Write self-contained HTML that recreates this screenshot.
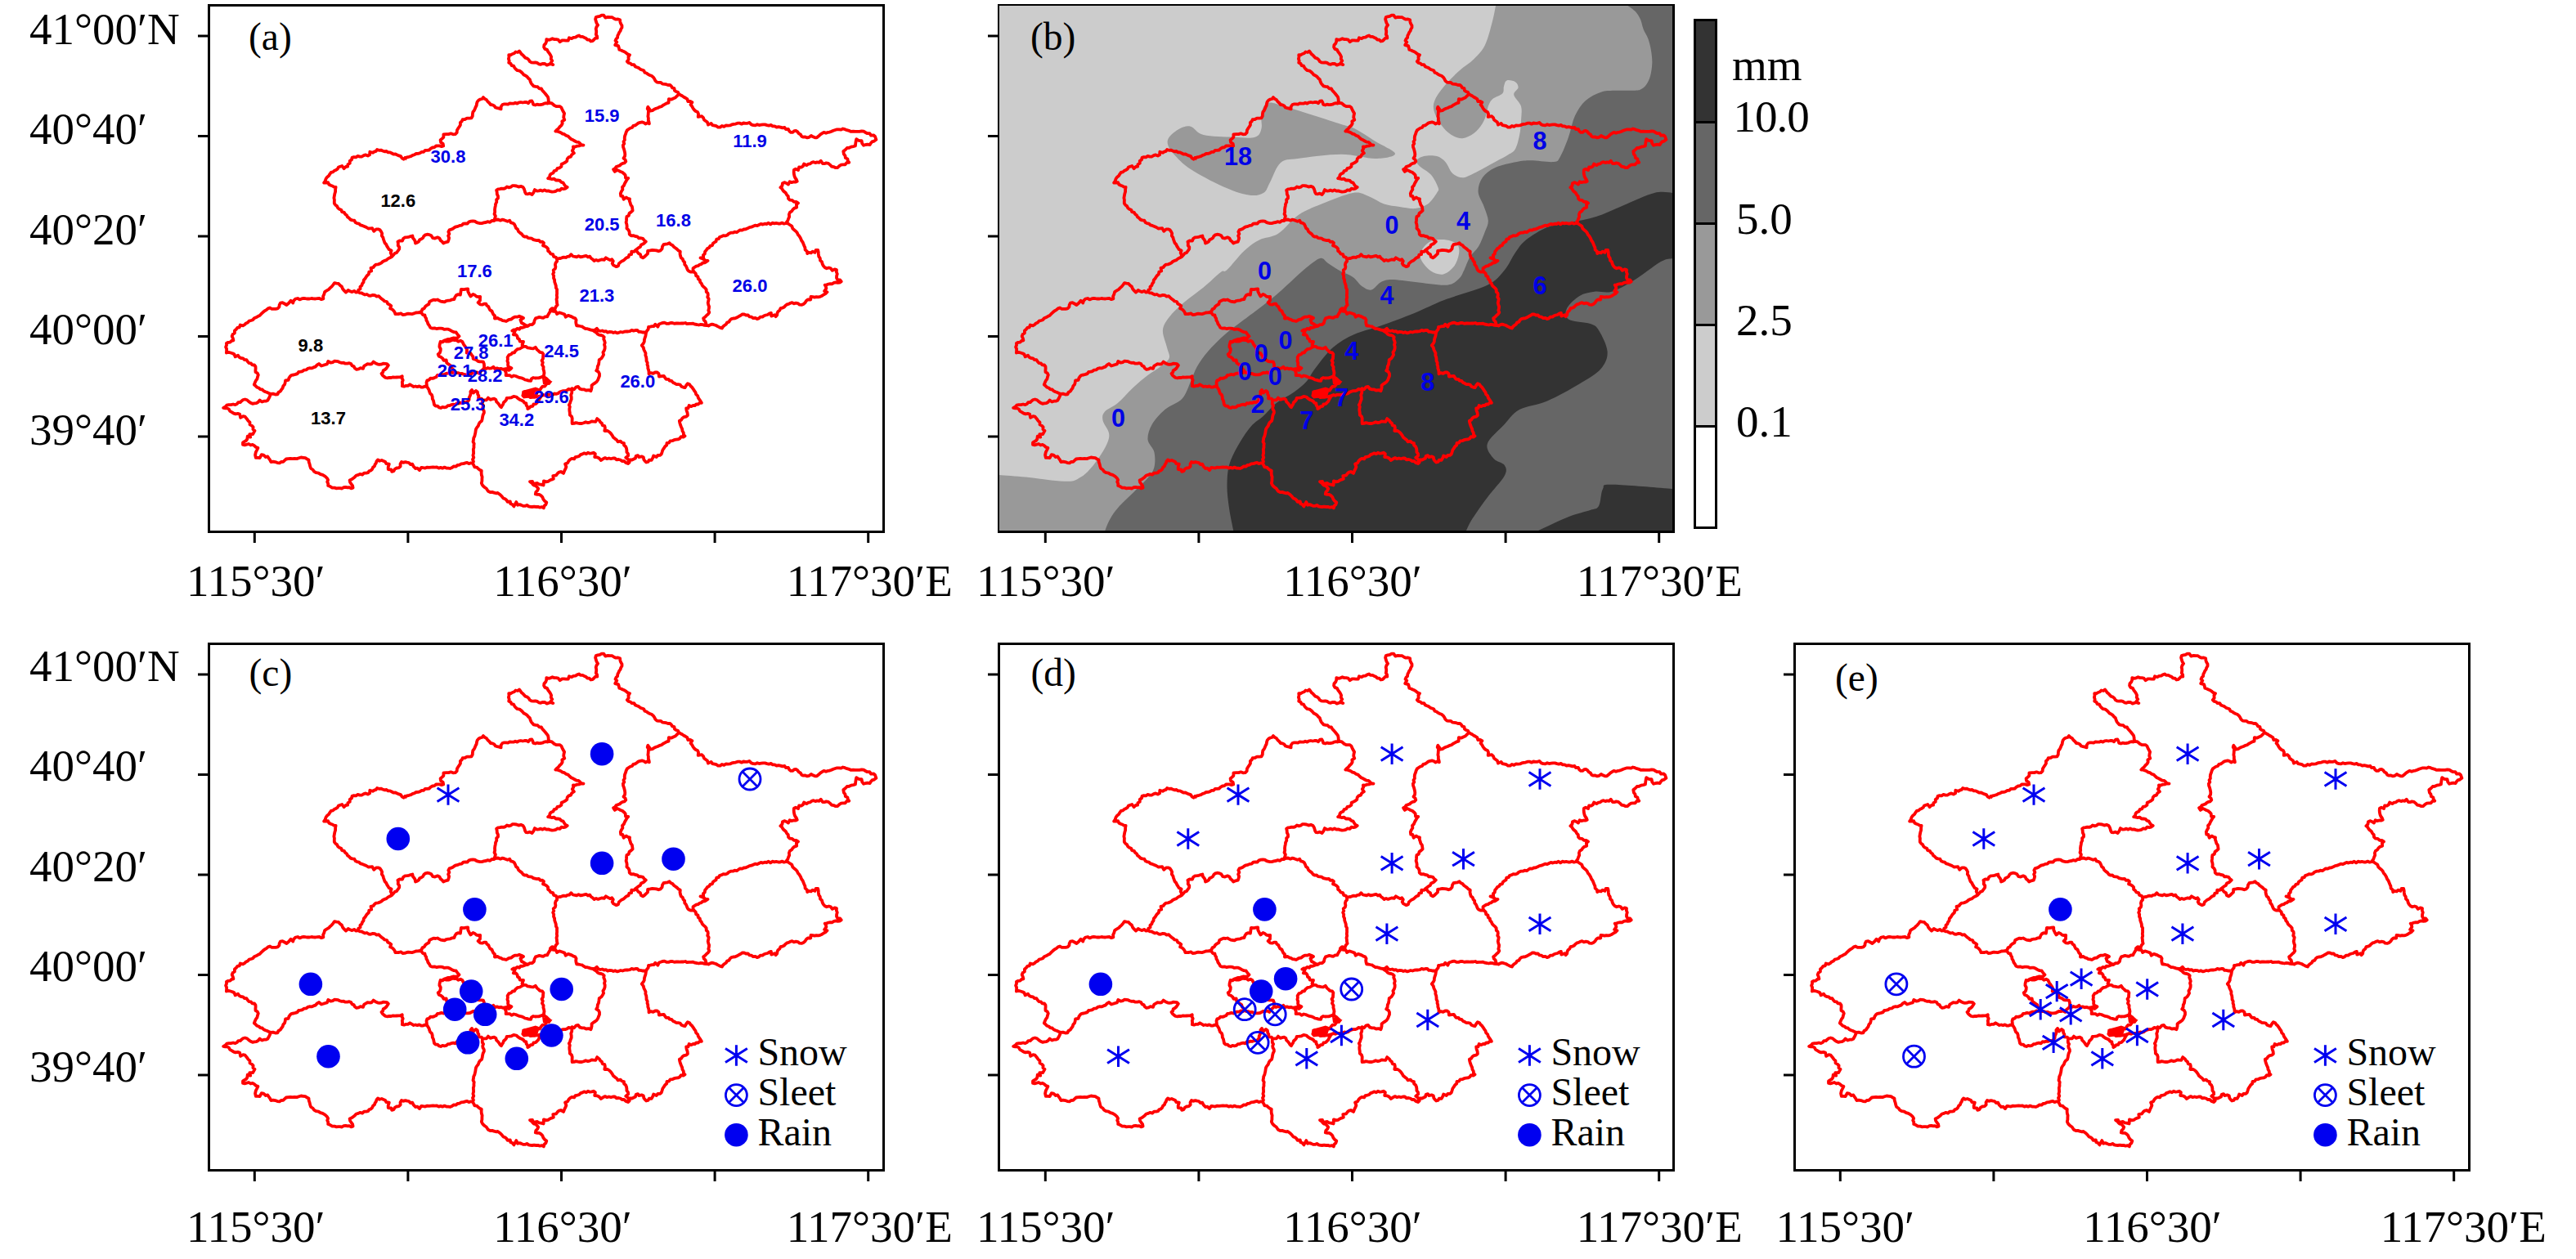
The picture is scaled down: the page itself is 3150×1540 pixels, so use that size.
<!DOCTYPE html><html><head><meta charset="utf-8"><style>html,body{margin:0;padding:0;background:#fff;}svg{display:block;}</style></head><body>
<svg width="3150" height="1540" viewBox="0 0 3150 1540">
<rect width="3150" height="1540" fill="#fff"/>
<defs>
<g id="map"><path d="M672,126 L669.8,126.5 L667.6,126.2 L665.4,126.6 L663.3,127.7 L661.1,128 L658.9,128.1 L656.6,127.7 L654.5,128.5 L652.2,128 L651.5,125.7 L650.4,123.5 L648.1,123.7 L646.2,126.2 L643.7,125 L641.4,125 L639.2,125.5 L636.9,125 L634.6,125.4 L632.5,126.6 L630.1,125.7 L627.9,126.7 L625.6,126.7 L623.3,126.4 L621.2,127.6 L618.9,127.4 L616.6,127.3 L614.4,128 L612.6,130.5 L612.6,133.4 L610.4,132.7 L608.1,132.2 L605.9,131.5 L604.3,129.4 L602.3,128.3 L599.9,128 L598.4,126 L596.4,124.3 L595,122.2 L592.7,120.8 L590.9,119 L589.6,121 L587.2,121.5 L585.2,122.6 L583.7,124.4 L583,126.6 L582.7,129 L581.6,131 L580.8,133.1 L579.8,135.2 L578.3,137 L577.9,139.5 L577.8,142 L576.5,144.3 L573.8,144.6 L571,144.6 L568.5,146 L565.7,146.1 L564.8,148.3 L562.8,150 L563,152.8 L561.8,154.9 L560.3,156.9 L558.9,159.2 L558.7,162.1 L556.7,164.1 L554,164.3 L551.3,163.3 L548.6,164.1 L545.9,164.1 L542.4,164.3 L542.4,167.8 L540.6,169.6 L538.6,171.3 L539.1,174.1 L541.7,175.8 L542.2,178.5 L540,179.2 L537.7,178.4 L535.5,178.3 L533.2,178.5 L531.3,180.1 L528.8,180.5 L526.7,181.6 L524.9,183.5 L522.4,183.9 L519.9,183.9 L518.1,185.8 L515.7,185.9 L513.6,187.2 L511.4,187.9 L508.9,188 L506.9,189.2 L504.6,189.9 L502.6,191.1 L500.2,191.8 L497.9,192.4 L495.6,193.1 L493.6,194.7 L491.4,193.3 L490,191.1 L487.8,190.4 L485.7,189.5 L483.6,188.5 L481.2,188.7 L479.2,187.5 L477,186.4 L474.6,186.4 L472.6,185 L470.1,185.3 L467.9,184.5 L465.8,183.6 L463.3,183.8 L461.1,183 L459.8,184.9 L457.6,185.6 L455.7,186.8 L452.3,185.8 L452.1,189.3 L449.8,190.5 L447.2,189.4 L444.8,190.1 L442.6,191.5 L440.1,191.6 L437.5,190.9 L435.3,192.3 L432.8,192.1 L430.5,192.9 L430,195.4 L427.7,196.9 L427.8,199.7 L425.4,201.2 L425.1,203.7 L422.8,204 L420.6,206.2 L418.3,203 L416.1,203.7 L413.9,204.5 L412.8,206.7 L410.9,207.9 L408.8,208.8 L407.1,210.3 L404.8,210.9 L403.4,212.8 L402.1,215 L399.9,216.7 L398.5,218.8 L397.6,221.4 L396.2,223.6 L398.6,223.5 L401.1,223.2 L402.4,225.8 L404.4,226.8 L406.5,227.5 L408.4,228.7 L410.6,229 L410.1,231.7 L410.1,234.5 L409.3,237.1 L408.8,239.8 L408.4,242.1 L408.9,244.3 L408.8,246.6 L408.8,248.8 L410.2,250.7 L412.1,252.1 L413.2,254.3 L414.9,255.8 L417.3,256.7 L418.1,259.2 L420.8,259.8 L422,261.9 L423.9,263.2 L425,265.4 L426.9,266.8 L428.6,268.6 L430.7,269.4 L433.3,269.7 L434.6,272.1 L436.6,273.2 L439.1,273.6 L440.8,275.3 L443.1,275.9 L445.6,276.9 L448,278 L450.3,279.5 L452.8,279.4 L455.2,279.2 L457.2,282.8 L460,280.3 L462.4,280.3 L464.7,281.3 L466.1,283.3 L467.2,285.5 L466.8,288.3 L468.3,290.3 L468.9,292.6 L469.7,294.8 L470.5,297.1 L472.2,298.9 L473.2,301.1 L474.5,303.1 L475.6,305.1 L478.6,306.4 L477.7,309.4 L478.7,311.5 L479,314 M479,314 L476.8,315.3 L474.5,316.4 L472.5,318.1 L470,319 L468,320 L466.3,321.6 L464.4,322.7 L462.2,323.3 L459.8,323.6 L458,325 L456.5,327 L453.5,327.9 L454.2,331.5 L451.3,332.5 L450.9,335.3 L449,337 L447.6,338.9 L446.4,340.9 L444.8,342.6 L444.5,345.2 L443,347 L442.4,349.2 L440.4,350.7 L440.6,353.3 L438.2,354.6 L438,357 M438,357 L435.5,357.6 L433.1,355.9 L430.5,357.1 L428.1,356.3 L425.8,355 L423,357.6 L420.8,355.4 L419,353.3 L418,350.6 L415.8,349 L414,346.9 L411.5,346.7 L409,346.2 L407.2,348.6 L405.8,350.3 L404.1,351.8 L402.6,353.4 L400.9,354.7 L398.9,355.8 L397.1,357.1 L396.3,359.9 L395.1,362.6 L395.4,365.5 L393,366.2 L390.6,365 L388.1,365.1 L385.7,365.5 L383.3,365.3 L380.9,365 L378.5,365.5 L376,365.5 L373.6,365.2 L371.2,364.8 L368.8,365.4 L366.4,366.4 L364,365 L361.5,365.5 L359.2,367.6 L358.2,370.6 L355.6,367.7 L353.1,370.8 L350.5,373 L348,371.5 L345.5,370.2 L342.9,370.6 L341.7,372.8 L341.4,375.5 L339.5,377.4 L337.2,377.8 L334.8,377.8 L332.4,377.9 L330.1,376.5 L327.7,377.4 L325.7,379.2 L323.3,380.5 L321.2,382.3 L319.2,384.2 L317.5,386.1 L315.2,387.1 L313.1,388.3 L310.8,389.2 L309.2,391.2 L307,392 L304.6,392.6 L303,394.5 L300.8,395.4 L299.1,397.2 L297.1,398.3 L293.8,397.5 L292.8,400.3 L290.3,400.8 L288.8,402.8 L286.9,404.5 L286.9,407.4 L284.6,408.9 L283.7,411.2 L284.8,413.7 L285.4,416.3 L283.2,416.9 L281.4,418.6 L279,418.9 L276.9,419.7 L277.1,422.1 L276.1,424.4 L277.1,426.8 L277.1,429.2 L276.9,431.5 L279.5,430.9 L282,431.5 L284.3,432.2 L286.4,433.3 L287.7,436.4 L291,434.7 L292.6,437 L294.7,438 L297.2,438.3 L298.8,440.1 L301.5,440.2 L302.8,442.3 L304.4,444.1 L306.9,444.4 L308.4,446.4 L311,446.5 L312.5,448.5 L312.6,450.7 L312.4,453 L312.5,455.2 L314.7,456.4 L315.8,458.6 L315,461 L314.4,463.6 L312.8,465.7 L311.7,468.1 L310.8,470.5 L312.6,472 L314.2,473.8 L316.5,474.5 L318.2,476.1 L320.7,476.5 L322.4,478.2 L324.6,479.2 L326.8,480 L328.9,481.1 L331,482 M331,482 L330,484.7 L328.7,487.3 L327.3,489.8 L325.1,490.7 L322.7,490.7 L320.4,491.5 L317.6,489.6 L315.7,491.8 L313.5,493.2 L311.1,493.3 L308.8,493.8 L306.4,492.7 L304.2,491.1 L302.2,489.3 L299.6,488.5 L297.3,489 L295.5,490.4 L293.8,492.1 L291.3,492.1 L289.8,494.1 L287.7,495.1 L285.1,494.5 L282.4,495.1 L279.8,495.1 L277.2,495.7 L275.4,497.7 L273.2,499 L275.4,499.4 L277.7,499.4 L279.8,500.4 L281.2,502.9 L283.8,504.3 L285.8,505.6 L288.1,506.4 L290.8,505.9 L293.1,506.5 L294.1,510.9 L297.3,509.1 L299.6,509.6 L301.7,512.2 L303.6,514.9 L305.5,516.5 L305.5,519.3 L307.9,520.6 L309.6,522.3 L309.4,525.3 L311.5,526.8 L310.4,528.9 L309.2,531 L305.3,531.2 L306.2,534.7 L302.7,533.7 L302.3,537.1 L300.9,539 L298.9,540.1 L297,541.3 L297,543.9 L299.3,544.3 L301.7,543.7 L304.1,543 L306.5,544.5 L308.8,543.9 L311,545.2 L313,547 L315.4,547.9 L314.2,550.5 L312.8,553.2 L312.1,556.5 L312.8,559.8 L315.2,559.8 L317.7,560 L319.8,556.2 L322.3,556.6 L324.9,559 L327.3,558.4 L328.7,560.6 L330.2,562.7 L331.3,565 L334,564.6 L336.6,565.1 L339.2,566.1 L341.8,566.4 L343.8,565 L346.3,564.8 L348.1,563.1 L349.9,561.5 L352.4,561.1 L355,560.9 L357.7,561.2 L360.3,560.9 L363,561.1 L365.5,560.3 L368.1,559.5 L370.9,559.8 L373.3,560.1 L375.3,561.4 L377.5,562.4 L377.7,565.1 L378.6,567.7 L379.2,570.4 L380.1,573 L382.5,574.5 L384.2,576.9 L386.7,578.2 L389.5,578.6 L391.9,580.2 L394.6,580.9 L397.5,582.6 L399.9,584.8 L401.1,587 L400.2,589.5 L401.3,591.7 L401.2,594.1 L403.8,595.1 L406.3,596.6 L409.2,596.7 L411.4,597.3 L413.6,597.1 L415.9,597.2 L418.1,597.5 L420.4,596.1 L422.6,595.8 L424.9,596.4 L427.1,596.1 L429.4,597.4 L431.6,596.7 L431.1,594.2 L429.6,592.1 L428.1,590 L427.6,587.5 L429.9,586.4 L431.9,584.9 L433.9,583.4 L435.7,581.5 L438.2,580.9 L440.5,579.8 L443.1,580.7 L445.2,578.7 L447.7,578.7 L450.1,578.2 L451.3,576.3 L453.6,575.4 L455.2,573.8 L456.1,571.6 L458,570.3 L458.6,568.1 L459.9,566.3 L460.5,564.2 L462,562.4 L464.1,563.8 L466.8,563 L469,563.9 L471.2,565 L472.3,567.2 L475.8,567.7 L474.7,571.3 L474.7,574.1 L478.5,574.5 L479.1,576.9 L481.5,576.1 L482.9,573.6 L485.1,572.5 L487.8,572.1 L489.7,570.3 L489.5,567.5 L491,565 L493.1,565.8 L495.6,565.1 L497.8,565.6 L500,566 L501.8,568 L504.2,567.7 L505.7,570.7 L508.2,573 L510.5,572.6 L513,575.1 L515.2,571.8 L517.6,572.2 L520,572.5 L522.4,571.6 L524.8,571.9 L527.1,571.6 L529.5,571.4 L531.9,571.6 L534.2,571.5 L536.5,572.6 L538.9,571.9 L541.1,572.7 L543.5,571.6 L545.8,572.5 L548.1,572.6 L550.4,573 L552.7,572.1 L554.7,570.5 L557.4,570.7 L559.4,569 L561.9,568.6 L564,567.4 L566.6,567.2 L568.9,566.4 L571.2,565.8 L573.4,567.2 L575.8,566.3 L578,567 M578,567 L579.3,569.1 L580.4,571.4 L583.1,571.6 L584.7,573.3 L586.6,574.7 L588.8,575.7 L588.6,578.2 L588.8,580.8 L589.6,583.3 L589.4,585.8 L589.4,588.4 L588.8,590.9 L589.7,593 L591.1,594.8 L592.8,596.2 L594.7,597.5 L595.9,599.3 L597.2,601.1 L599.4,602.1 L601.8,601.9 L604,602.6 L606.3,603.3 L608.7,603 L610.8,604.5 L612.5,605.9 L614,607.6 L615.4,609.4 L617.7,610.3 L619.4,611.7 L620.6,613.8 L623.9,613.4 L624.3,616.3 L626.5,617 L628.4,619.4 L631.3,614.1 L633.1,617.8 L635.4,617.1 L637.6,617.9 L639.7,618.9 L642,618.9 L644.3,617.9 L646.4,619.4 L648.6,619.9 L650.8,620 L653.1,619.7 L655.4,620 L657.9,619.9 L660.2,620.7 L662.7,620.2 L664.9,621.4 L665.5,618.9 L667.5,617 L668.3,614.6 L666.2,612.9 L664.4,610.8 L663.4,608.1 L661.5,606.2 L659.4,604.9 L657.1,604.9 L654.8,604.5 L655.3,601.9 L657.2,600.1 L658.2,597.7 L656.8,595.9 L655.3,594.2 L652.9,593.7 L651.3,592.1 L651.1,589 L648,589.2 L650.1,590.6 L652.3,591.1 L654.7,591.3 L657.1,591 L659.2,592.3 L661.5,592.6 L664.6,593.5 L664.9,588.4 L667.9,589.4 L670.3,588.8 L672.3,587.5 L674.5,586.6 L676.8,585.8 L676.3,582 L680.1,581.3 L681.8,579.1 L683.7,577.6 L685.9,577 L689.1,578.9 L690.3,575.7 L691.5,573.4 L692.4,571 L691.1,567.6 L694.2,566.2 L695.4,563.8 L697.1,562.1 L699.2,560.9 L702.1,561.4 L703.6,559.1 L706,558.6 L708.3,558 L710,556.1 L712.3,555.4 L714.5,554.3 L716.9,555.3 L719,553.7 L721.4,554.7 L723.6,554.4 L725.8,553.7 L727.9,555 L727.2,559.1 L730.4,559.3 L732.6,560.5 L735,563.1 L737.5,561.2 L739.9,560.1 L742.3,561.2 L744.7,560.5 L747.1,561.2 L749.5,560.5 L751.9,560.5 L753.9,562.3 L756.4,562 L758.6,562.5 L760.6,564 L763.1,563.8 L765.2,565.9 L768,567 M768,567 L769.7,565.5 L769.8,562.3 L772.9,562.5 L775,561.5 L777,560.5 L777.7,557.8 L780,557.1 L781.2,559.1 L784.6,558.4 L786.8,559.2 L787.3,562.1 L788.6,563.9 L790.2,565.5 L792.5,564.9 L793.9,562.6 L796.7,562.8 L798.1,560.4 L799.2,557.5 L802.7,559 L804.3,557 L806.9,556.9 L808.8,555.4 L809.6,553 L810.3,550.5 L811.8,548.4 L813.1,546.3 L815.2,544.5 L815.5,541.8 L818,541.6 L819.6,539.4 L822.1,539.2 L824.2,538.2 L826.6,537.7 L829,537.4 L831.1,536.5 L832.8,534.2 L835.5,534.7 L837.5,533.4 L835.9,531.6 L835.8,529.2 L834.5,527.3 L834.2,524.9 L833.1,522.5 L832.1,520 L831.3,517.4 L830.8,514.8 L833,513.7 L834.4,511.5 L836.4,510.1 L839.1,509.7 L840.9,508 L840.6,505.1 L839.6,502.4 L839.2,499.5 L841.5,499.4 L842.6,496 L845.4,497.2 L847.3,496 L849.7,496 L851.4,494.4 L853.8,494.6 L855.5,492.7 L857.9,492.8 L856.6,490.6 L855.2,488.6 L853.8,486.6 L853.1,484.1 L851.1,482.4 L850.5,479.9 L849,478 L847.7,475.8 L846.3,473.8 L844.5,472.3 L843.2,470.2 L840.9,469.1 L839.1,471.5 L837.5,474.2 L835.3,473.6 L833.2,472.7 L831.7,470.5 L829.4,470.1 L826.9,470 L825,468.8 L822.9,467.9 L821.3,466 L818.9,465.7 L817.4,463.8 L814.6,463.9 L813.2,462 L811.8,459.9 L808.9,460.1 L805.9,460.5 L805.5,456.9 L803.7,455.5 L801.1,455.5 L798.7,456.9 L796,456.1 L793.5,457.2 L793.5,454.9 L793.1,452.7 L792.3,450.5 L792.3,448.2 L791.5,446 L791.7,443.6 L790.5,441.5 L790.5,439.2 L790.2,436.9 L789.3,434.6 L789.5,432 L788.4,429.7 L787.3,427.5 L786.8,425.1 L784.8,422.5 L786.8,420 L787.8,418 L787.9,415.7 L788.5,413.5 L789.3,411.4 L789.7,409.2 L790,407 M790,407 L791,404.7 L792.7,402.7 L793,400 L795.2,399.7 L797.4,399.2 L799.6,399 L801.3,396.7 L804.4,399.7 L805.8,396.5 L807.9,395.8 L810,395 L812.5,394.6 L815,395.8 L817.5,395.9 L820,395 L822.2,394.9 L824.5,395.8 L826.8,395.5 L829,395.3 L831.2,395.6 L833.5,395.3 L835.8,395.5 L838,395 L840.3,396.2 L842.7,395.8 L845.1,395.8 L847.5,395.6 L849.8,396.7 L852.1,397 L854.5,397.5 L856.9,396.9 L859.3,397.1 L861.6,397.9 L864,398 M864,398 L866.3,398.5 L868.4,397.3 L870.6,396.7 L872.9,397.2 L875.5,398 L877.9,399.4 L880.3,400.6 L882.9,401.5 L884.1,399.5 L885.9,398 L887.9,396.7 L889,394.6 L891.4,393.7 L892.6,391.6 L894.3,390.1 L896.6,389.5 L899.1,389.3 L901.3,388.3 L903.4,387 L905.5,386 L907.5,384.5 L910,384.4 L912.2,385.5 L914.8,385.4 L916.6,387.4 L919,387.7 L921,389.1 L923.7,388.8 L925.8,390.1 L928,389.4 L929.8,387.7 L932.3,387.7 L934.2,386.2 L936.4,385.5 L938.7,385 L940.7,383.6 L942.9,382.9 L943.2,386.6 L947.2,385.2 L948.6,387.2 L950.2,385.5 L950.5,383 L951.5,380.9 L953.5,379.4 L954.4,377.2 L956.6,376.6 L958.8,375.8 L960.3,373.9 L962.2,372.4 L964.4,371.9 L966.5,370.8 L968.6,370.1 L970.8,371.3 L973.3,370.7 L975.7,371.1 L977.7,372.7 L980.1,372.9 L982.5,371.9 L984.5,370.3 L985.9,368 L987.8,366.4 L991.3,366.5 L991.5,362.9 L993.8,363.2 L996.1,363.7 L998.4,363.1 L1000.7,363.3 L1003,362.9 L1005.3,361.8 L1007.4,360.3 L1009.6,359 L1011.5,357.2 L1008.1,356 L1010.4,352.8 L1009.9,350.6 L1008.7,348.6 L1010.9,348.3 L1013.1,347.5 L1015.3,347.1 L1017.7,347.3 L1019.8,345.8 L1022,345.4 L1024.4,345.8 L1026.7,345.6 L1028.7,344.3 L1027.2,342.3 L1024.3,342.2 L1023,340.1 L1023.1,337.6 L1023.8,335.1 L1022.8,332.6 L1023,330.1 L1020.6,329.3 L1017.8,330.9 L1015.9,328.3 L1013.6,327.5 L1010.9,328.3 L1008.7,327.2 L1006.9,325.3 L1005.7,323 L1005,320.3 L1003,318.6 L1002.8,315.9 L1001.2,313.6 L1000.9,311 L1000.7,308.3 L1000.1,305.8 L997.7,305.8 L996.4,308.9 L993.6,307.6 L991.8,309.3 L989.2,308.9 L987.2,310 L986.9,307.4 L984.6,305.6 L984.4,302.9 L983.4,300.7 L982.5,298.5 L981.6,296.2 L980.1,294.3 L978.9,291.3 L977.2,288.6 L975.7,286.9 L974.8,284.7 L973.3,282.9 L971.5,281.5 L969.3,279.6 L968.3,276.6 L965.8,275 L963.6,273.5 L961,273 M961,273 L963.3,270 L964.1,267.5 L965.2,265.1 L964.9,262.3 L965.8,259.8 L968.1,258.4 L969.5,256.2 L971.5,254.6 L974.2,253.6 L973.9,249.9 L976,248.4 L973.6,247 L970.8,246.8 L968.6,244.9 L965.8,244.6 L964,242.8 L963.8,240.1 L962,238.2 L960.9,236.1 L959,234.6 L957.4,232.9 L956.3,230.8 L954.4,229.3 L956.5,227.2 L956.9,224.2 L959.1,223.1 L961.5,224 L964,225.6 L965.7,222.2 L968.1,223.1 L970.3,222.5 L972.6,222.7 L974.7,221.7 L973.8,219.5 L972.3,217.5 L971.4,215.2 L970.9,212.8 L970.7,210.3 L970.9,207.7 L973,206.7 L976.1,208 L977.1,204.4 L979.8,204.6 L981.8,203.4 L983.1,200.5 L986.3,202.1 L988.3,200.7 L990.7,200.4 L992.5,198.8 L994.8,198.2 L997,199.1 L999.2,198.4 L1001.5,198.8 L1003.8,196.7 L1005.9,200 L1008.1,200.2 L1010.3,199.4 L1013,199.9 L1015,201.6 L1016.8,203.6 L1019.4,204.1 L1021.8,205.2 L1024.3,205 L1026.2,203.1 L1028.2,201.7 L1030.7,201.4 L1033.5,201.3 L1035.5,198.9 L1038.3,198.8 L1036.8,196.9 L1036.4,194.4 L1033.8,193.1 L1033.5,190.5 L1031.9,188.6 L1031.3,185.1 L1033.7,183.2 L1035.8,181 L1038.4,180.8 L1040.8,179.6 L1043.4,179.1 L1045.9,178.5 L1046.2,175.7 L1046.6,172.9 L1047.2,170.2 L1049.2,171.4 L1051.2,172.2 L1053.6,172.1 L1054.2,175.3 L1056.1,177.8 L1058.6,177 L1061.1,176.7 L1063.7,177.2 L1064.8,175.2 L1066.3,173.4 L1069,172.6 L1071.4,170.8 L1070.1,167 L1068.1,165.3 L1065.1,165.7 L1063.4,163.1 L1060.6,163.2 L1058.3,162 L1056.1,160.7 L1053.6,160.3 L1051,160.8 L1048.5,160.8 L1045.9,160.8 L1043.4,160.7 L1040.6,160.9 L1038.2,159.8 L1035.7,159.2 L1033.2,158.2 L1030.7,157.5 L1028.5,158.6 L1026,158.3 L1023.6,158.3 L1021.3,159 L1019,159.7 L1016.8,160.7 L1014.6,161.6 L1012.2,161.9 L1010,162.8 L1007.4,161.9 L1005.3,163.2 L1003,164.7 L1001,166.6 L998.9,168.3 L996.5,168.3 L994.2,167.3 L991.9,166 L989.5,167.8 L987.1,168.4 L984.7,167.4 L982.4,167.7 L980.1,166.7 L978.9,164.5 L976.8,163.4 L975.4,161.4 L973.5,160 L971.2,160.1 L969.4,161.8 L967.1,161.9 L965.2,160.5 L963.9,157.9 L961,158.2 L959.5,156 L956.7,156.4 L954.4,155.6 L952.1,155.1 L949.6,155.7 L947.3,154.4 L944.9,154.4 L942.7,152.9 L940.2,153.7 L937.9,153.1 L935.5,152.4 L933.1,152.4 L930.7,152.7 L928.3,153.1 L926,152.2 L923.6,153.4 L921.2,153.2 L918.8,152.4 L916.3,149.9 L914,150.8 L911.6,150.9 L909.1,150.5 L906.8,151.7 L904.3,150.6 L901.9,150.7 L899.6,151.6 L897.2,151.8 L894.8,152.4 L892.6,153.4 L890.1,153.6 L887.6,153.5 L885.4,154.9 L882.8,154 L880.6,155.6 L878.1,155.6 L876.1,154.2 L873.7,153.6 L871.2,153.1 L869.6,150.9 L866,152.6 L864.9,149.3 L862.9,148 L860.9,146.4 L859.9,143.8 L858.1,142.1 L853.7,142.9 L854,139.1 L852.9,136.9 L850.7,136 L849,134.5 L847.6,132.7 L846.4,130.3 L844.5,128 L846.4,125.1 L844.2,124 L841.3,124.1 L840.4,121.1 L838.3,119.8 L836.2,118.7 L834.2,117.3 L832.1,116.2 L830,115 M830,115 L829.1,112.8 L826.7,112 L824.9,110.7 L824.5,108 L822,107.3 L820.9,105.3 L819.3,103.8 L816.9,104 L814.7,103.2 L812.4,102.8 L810.1,102.7 L808.1,100.9 L805.7,100.9 L803.4,100.6 L801.4,98.8 L800.2,96.4 L798.6,94.2 L796.8,92.8 L794.6,92 L792.5,90.9 L790.7,89.5 L788.4,88.8 L787.3,86.3 L785.1,85.5 L782.9,84.7 L781.1,83.1 L778.9,82.3 L776.8,81.4 L775.3,79.1 L772.6,79.2 L770.9,77.5 L768.5,76.9 L766.8,75.1 L768.7,72.8 L768.4,69.6 L770,67.2 L767.8,66.4 L765.9,64.9 L763.9,63.5 L761.7,62.6 L759.6,61.5 L757.3,60.8 L756.8,58.4 L756.1,56.1 L752.2,55.1 L754.3,51.6 L752.5,49.7 L753.4,47.7 L755.1,46.1 L755.3,43.7 L756.4,41.7 L757.2,39.6 L758.6,37.9 L759.2,35.7 L760.5,33.8 L760.5,31.3 L759.2,29.1 L758.4,26.8 L758.1,24.3 L755.8,23.5 L753.1,23.7 L750.9,22.7 L748.7,21.2 L746.2,21.1 L743.4,20.8 L740.3,21.6 L738.2,18.7 L735.7,18.6 L733.5,19.9 L731,20.3 L728.7,21.1 L728.1,23.5 L728.8,25.9 L729.5,28.3 L731.1,30.7 L729.4,33 L728.7,35.4 L729.2,37.6 L729.2,39.9 L728.8,42.2 L730.1,44.3 L730.3,46.5 L727.9,46.7 L726.3,48.5 L724.6,50.1 L722.4,50.5 L720.7,48.7 L718.3,48.5 L716.5,46.8 L714.4,45.9 L712.4,44.8 L709.8,44.9 L708.1,43.4 L705.8,44.3 L703.7,45.7 L701.2,45.9 L699.1,47.2 L696,46.2 L694.8,49.6 L692.2,49.7 L689.8,49.4 L687.4,49.4 L684.7,51.3 L682.6,48.6 L680.3,48.1 L677.9,48.1 L675.5,47.2 L673.1,48.3 L670.7,48.8 L668.3,48.1 L668.2,50.7 L667.3,53.1 L665.4,55.1 L665.1,57.7 L666.3,59.9 L669,60.9 L670.2,63.2 L671.7,65.1 L673.1,67.2 L674.1,69.5 L673.7,72.2 L675.3,74.3 L673.2,77.4 L676.3,79.1 L673.8,78.2 L671.3,78.7 L668.7,79.6 L666.3,78 L663.8,77.8 L661.3,78.8 L658.8,78.3 L656.8,76.9 L654.6,76.3 L652.1,76.6 L649.8,76.3 L647.7,75.1 L646.6,73.1 L644.9,71.6 L642.5,70.8 L640.9,69.2 L639.5,67.5 L637.6,66.1 L636.4,64.2 L635,62.4 L633.1,64 L630.5,63.5 L628.8,65.3 L626.6,66 L624.7,67.2 L622.2,67.2 L622.5,69.6 L621.9,72 L622.7,74.4 L622.2,76.7 L624.5,77.7 L625.5,80.1 L628.1,80.7 L629.3,82.9 L630.9,84.7 L632.7,86.2 L635.4,86.6 L637.3,88 L639,89.6 L640.5,91.5 L642.7,92.5 L644.6,93.9 L646.1,95.8 L647.9,97.3 L648.6,99.7 L649.5,101.8 L650.9,103.6 L652.4,105.3 L654.9,105.8 L657.4,106.2 L659.4,108.3 L662,108.5 L663.3,110.7 L665.1,112.6 L666.7,114.5 L668.3,116.5 L670,118.6 L670.6,121.1 L670.7,123.8 L672,126 M830,115 L827.9,117.4 L825.6,119.6 L823.3,120.5 L821.1,121.7 L817.8,121.2 L817.6,125.7 L815.1,126.3 L812.9,127.6 L810.8,128.7 L808.9,130.2 L806.5,130.9 L804.4,132 L802.1,132.7 L799.9,133.7 L797.9,135.1 L795.4,135.5 L793.9,133.1 L792.3,130.8 L791.7,133.1 L793.1,135.3 L792.8,137.7 L792.7,140 L792.4,142.3 L792.9,144.6 L792.8,146.9 L793.5,149.1 L793.9,151.4 L791.8,150.3 L789.3,151.6 L787.3,150 L785.1,149.4 L782.7,149.8 L780.5,150.6 L778.7,152 L776.7,153.4 L774.4,153.9 L773,156 L770.6,156.7 L768.7,158 L766.8,159.4 L765.7,161.6 L765,164 L764,166.4 L763.7,168.9 L763.9,171.2 L762.5,173.3 L763.3,175.7 L761.9,177.7 L762.1,180 L762.9,182.1 L763.5,184.3 L764,186.4 L764.3,188.6 L764.1,190.9 L762.5,193.5 L764.6,195.4 L765.3,197.5 L763.7,199.3 L761.4,199.8 L759.5,200.9 L757.8,202.5 L755.6,203.3 L753.5,204.1 L752.1,206.1 L750.1,207.2 L751.7,209.9 L754.7,207.9 L756.8,208.9 L758.8,210 L761,210.8 L763,212.4 L764.7,214.2 L765,217.6 L768.2,218 L766.4,220 L765.2,222.3 L763.9,224.5 L762.9,227 L761,228.8 L761.4,231.7 L759.8,234.2 L758.8,236.8 L759.2,239.7 L761.5,240 L762.6,243.8 L765.8,241.5 L767.7,242.8 L770,243.3 L769.8,245.9 L770.7,248.2 L771.3,250.6 L772.9,252.7 L773.3,255.2 L773.6,257.7 L771.7,259.4 L769.5,260.9 L768.8,263.7 L766.4,264.9 L766.1,267.3 L766,269.7 L765.6,272.1 L766.4,274.5 L766.7,276.9 L766.4,279.3 L768.4,281.2 L769.6,283.5 L769.7,286.5 L771.8,288.3 L774.4,288.1 L776.7,289 L779.2,289.3 L781.2,291.4 L783.8,291.2 L786.2,291.9 L787.8,294 L789.8,295.5 L788.1,297.2 L786.2,298.6 L783.9,299.6 L782.9,302 L780.7,303.1 L779,304.7 L777,306 M672,126 L674.3,126.1 L676.2,127.5 L677.9,129.1 L680,130 L682.3,130.2 L684.7,130.1 L686.5,131.6 L687.5,134.1 L688.8,136.5 L690.1,138.8 L689.5,141.3 L689.2,143.7 L690.3,146.6 L687.3,148.4 L687.7,151 L686.5,153.3 L684.6,155 L683,157.1 L681.1,158.7 L679.3,160.5 L681.6,160.7 L683.8,161.4 L685.9,162.2 L687.8,163.6 L690.1,164.1 L692.1,165.8 L694.7,166.6 L696.5,168.5 L698.5,170.2 L700.9,171.3 L702.9,172.5 L705,173.7 L707.5,173.9 L709.3,175.5 L711,177.3 L713.5,177.6 L710.9,177.1 L708.5,178.4 L705.9,178.6 L703.5,179.6 L700.9,179.4 L701.2,182 L699.8,184.3 L701.9,187.3 L699.1,189.3 L698,191.6 L695.4,192.4 L693.7,194.2 L693.3,197 L691.4,198.5 L689.2,199.7 L686.6,200.7 L686.5,203.7 L684.3,205.3 L681.6,205.8 L680.1,208.5 L677.5,209.2 L676.6,211.4 L674.1,212.4 L672.5,214.1 L672,216.6 L670.2,218.2 L672.7,218.5 L675,219.2 L677.6,218.7 L679.8,220.5 L682.2,220.5 L684.7,220.9 L686.2,222.7 L688.7,223.6 L690,225.8 L691.5,227.8 L693.7,229 L691.6,230.6 L689.2,231.1 L686.5,230.7 L684.7,232.9 L681.9,232.3 L679.8,233.8 L677.5,234.4 L675.1,234.7 L672.8,234.1 L670.5,233.4 L668.2,233.7 L665.9,232.4 L663.5,233.7 L661.2,232.6 L659,233.4 L656.7,233.6 L653.9,232.1 L652.4,235.7 L650.6,238 L647.9,236.6 L645.6,237.3 L643.2,237.1 L642.1,235.2 L641.5,233 L640.8,230.9 L639.6,229 L637,227.8 L634.1,228.6 L631.5,227.5 L628.8,227.2 L626.5,227.2 L624.6,228.7 L622.4,229.4 L619.9,228.5 L618,230.1 L615.9,230.9 L613.5,230.6 L611.4,231.2 L609.1,231.4 L607.1,232.6 L607.7,235 L607.8,237.5 L609,239.8 L609,242.4 L607.1,244.4 L607.3,247.1 L606.1,249.3 L605.8,251.8 L605.3,254.2 L605,256.7 L605.2,259.3 L604.5,261.8 L605.9,264.3 L605.3,266.8 L604,270 M479,314 L480.9,312.2 L482.5,310.1 L485.1,309 L486.6,306.8 L488.2,304.7 L488.3,302.3 L486.7,300.3 L486.9,297.9 L486.4,295.7 L488.7,294.5 L491.9,294.7 L493.2,291.8 L495.4,290.3 L497.7,290.1 L500,289.8 L502.2,289.1 L504.4,288.5 L504.8,290.9 L506.5,292.9 L507.6,295 L508,297.5 L510.2,296.7 L512.1,295.4 L513.2,293.2 L515.4,292.3 L517.2,291 L518.3,288.7 L520.1,287.4 L522.4,286.7 L525,287.1 L527.4,288.3 L529.3,291.2 L532,291.5 L535,290.3 L537.5,291.5 L538.6,293.9 L540.6,295.5 L542.2,297.5 L544.9,296.3 L547.7,295.7 L548.6,293.4 L549.1,291 L548.1,288.4 L549.4,286.1 L548.3,283.6 L549.5,281.3 L551.7,280.6 L553.8,279.8 L555.7,278.3 L557.7,277.3 L560,276.9 L562.1,275.9 L564.6,275.6 L566.5,273.7 L569,273.4 L571.6,273.5 L573.5,271.3 L575.8,270.7 L578.3,270.4 L580.6,270.6 L582.5,271.9 L584.6,272.7 L586.8,273.1 L589.1,273.2 L591.5,272.4 L594.1,272 L596.5,271.1 L599.2,271.8 L601.4,270 L604,270 M604,270 L606.5,268.8 L609.1,268.5 L611.9,269.7 L614.4,268.6 L616.5,269.2 L618.6,270 L620.6,270.8 L623.3,269.8 L624.7,272.4 L626.9,272.8 L628.8,274.1 L630,276.4 L630.9,278.9 L633,280.6 L634,283.1 L636,284.9 L638.1,286.4 L639.6,288.5 L641.6,289.7 L644,289.5 L645.8,291.1 L648,291.4 L650.3,291.7 L652.2,293.1 L654.3,293.7 L656.5,294.2 L658.9,293.8 L660.6,295.9 L663,295.7 L665,297 L664,300.4 L666.6,301.3 L668.7,302.6 L670.1,304.3 L670.1,306.9 L672,308.3 L673.4,310.5 L676.2,311.2 L677.1,313.9 L679.8,314.7 L681,317 M777,306 L775.5,307.9 L772.2,307.7 L772.1,311.2 L769.3,311.6 L768.6,314.4 L766.2,315.3 L764.4,316.8 L762.7,318.4 L760.4,319.4 L758.6,320.9 L756.8,322.4 L756,325.2 L753.7,326.2 L750.1,324.4 L748.7,322.2 L749.8,319.4 L748.3,317.2 L746,318.2 L743.5,316.8 L740.9,315.3 L738.7,317.9 L736.2,317.3 L733.9,318 L731.5,318.9 L729,317.9 L726.7,319 L724.8,317.3 L722.6,315.8 L721.3,313.6 L719,314.5 L716.7,312.8 L714.4,313.4 L712.1,314 L709.8,314.3 L707.5,313.1 L705.2,314.4 L702.9,313.9 L700.6,313.5 L698.3,311.2 L696.1,313.6 L693.9,313.9 L691.9,315 L689.5,314.6 L687.4,315.2 L685.3,316 L683.1,316.2 L681,317 M849,333 L846.7,332.3 L844.3,332.6 L842.1,331.6 L840.6,329.7 L839.8,327.5 L838.8,325.3 L837.2,323.5 L837.2,320.8 L835.5,319.1 L834.8,316.8 L832.7,315.2 L832,312.9 L831.5,310.5 L831.8,307.7 L829.3,306.3 L827.7,304.6 L825.8,303.2 L823.9,301.9 L822.4,300 L820.2,299.1 L818.6,297.3 L816.3,298.3 L813.9,298.6 L811.4,299.2 L810,301.4 L809.6,304.2 L807.8,306.4 L805.3,307.3 L802.8,306.4 L800.3,306.1 L797.7,305.8 L795.2,306.4 L792.1,306.8 L792,310.4 L790.1,312.1 L788.3,313.9 L786.2,315.4 L783.8,314 L783,311.2 L780.6,309.8 L779,307.7 L777,306 M849,333 L847.5,330.7 L847.5,328 L849.4,326.8 L851.3,325.7 L853.6,325.2 L855.4,323.8 L857.6,323.1 L859.3,321.5 L861.7,321.3 L863.6,320.3 L865.5,319 L863,318.8 L860.9,317.4 L858.8,316.3 L856.5,315.4 L860.3,315.5 L859.9,312 L861.8,310.5 L862.1,307.7 L863.7,305.9 L865.1,304 L867.3,302.8 L868.5,300.8 L871,300.1 L871.8,297.8 L873.6,296.4 L875.6,295.3 L876.2,292.7 L878.8,292.2 L879.9,290.1 L882.2,289.3 L884.4,288.1 L887.1,288.4 L889.4,287.5 L891.3,285.7 L893.6,284.7 L896.2,284.7 L898.3,283.7 L900.9,284.2 L902.9,282.8 L905,281.3 L907.5,281.6 L909.6,280.5 L912,280.3 L914.2,279.3 L916.4,278.1 L918.8,277.7 L921,276.7 L923.3,275.7 L926,276.2 L928.2,275 L930.4,273.9 L932.8,274.6 L935.1,273.7 L937.5,274 L939.8,272.7 L942.2,274.4 L944.5,272.7 L946.9,273.3 L949.2,272.8 L951.6,273.5 L954,273.6 L956.3,272.6 L958.7,273.7 L961,273 M849,333 L850.8,334.6 L851.1,337.3 L853.5,338.4 L853.7,341.1 L855.8,342.6 L856.2,345.1 L857.8,346.8 L858.7,349.1 L860.4,350.8 L862.2,352.4 L863.7,354.3 L863.7,357 L865.5,358.6 L865.8,361 L865.2,363.4 L866.7,365.6 L866.3,368 L865.7,370.4 L866.2,372.7 L867.1,375 L866.9,377.4 L866.3,379.8 L867.3,382.1 L865.9,384.2 L863.9,385.9 L862.2,387.8 L860.1,389.3 L860.8,391.6 L862.6,393.4 L863.3,395.7 L864,398 M681,317 L681.2,319.5 L679.5,321.5 L678.9,323.8 L679.4,326.3 L678.9,328.6 L676.7,330.5 L677.3,333.1 L676.2,335.2 L677.2,337.5 L677,340.1 L678.1,342.4 L678.2,344.9 L679.1,347.3 L679.8,349.6 L679.9,352 L681.1,354.2 L681,356.6 L681.1,359 L680.8,361.3 L681.2,363.7 L680.5,366.1 L680.9,368.4 L681,370.8 L681.6,373.1 L679.8,375.1 L678.6,377.9 L675,377.2 L673,379 M673,379 L675,380.3 L677.2,380.9 L679.6,381 L681,384 L683.9,382.3 L686.1,383 L688.3,383.8 L690.4,384.6 L691.7,387.7 L694.8,385.8 L697,386.6 L699.1,387.4 L701.1,388.6 L703.3,389.3 L704.6,391.4 L704.2,393.8 L704.5,396.1 L705.1,398.3 L707.4,398.5 L709.7,399 L711.9,399.4 L713.9,400.9 L715.9,402.1 L718.3,402.2 L720.5,402.9 L722.7,403.7 L725,404 M725,404 L727.3,403.8 L729.9,401.8 L731.9,404.5 L734.1,405 L736.5,404.5 L738.7,405.5 L741,405.2 L743.1,406.6 L745.5,405.8 L747.8,406.1 L750,407 L752.2,406.2 L754.6,407.4 L756.8,406.8 L759,406 L761.3,406.5 L763.5,405.7 L765.8,405.5 L768.1,405.5 L770.3,405.1 L772.4,403.9 L774.8,404.6 L777,404 L779.3,403.9 L781.2,405.8 L783.4,405.9 L785.5,406.5 L787.9,406.4 L790,407 M438,357 L439.8,358.3 L442.2,358.4 L444.1,359.6 L446.2,360.5 L448.6,360 L450.9,361.5 L453.3,361.8 L455.9,360.9 L458.3,361.2 L460.6,362.6 L463.1,362.2 L464.8,363.9 L466.6,365.5 L468.6,366.9 L470.3,368.5 L473.1,369 L474.1,371.5 L476.3,372.7 L478.3,374 L477.1,377.2 L479.6,378.4 L481.4,380.1 L482.7,382 L483.4,384.2 L485.6,384.2 L487.9,384 L490.2,383.3 L492.4,385 L494.7,384.9 L496.9,384.2 L499.2,383.6 L501.4,383.9 L503.7,384.2 L506.1,383.4 L508.4,382.5 L510.9,382.3 L513.4,382 M513.4,382 L515.6,380.7 L516.4,378.3 L518.8,377.2 L520,375 L522.1,373.3 L524.4,372 L525.2,368.9 L527.7,367.7 L530,366.6 L532.6,367 L535,366.5 L537,367.6 L539,368.7 L541.3,369 L543.6,369.3 L545.8,368 L548.2,367.6 L550.7,367.3 L553,366.3 L555.5,366 L556.3,363.5 L557.8,361.3 L559.9,360.2 L562.9,360.6 L563.4,357.3 L563.9,353.8 L567.4,354.2 L569.8,353.7 L572.2,353.4 L572.3,356.7 L573.8,359.7 L575.5,362.5 L578.5,359.9 L580.6,360.9 L582.6,362.6 L584.8,363.2 L587.2,362.9 L587,365.3 L587,367.6 L584.6,370 L587.2,372.4 L589.6,372.7 L591.9,371.7 L594.3,371.6 L595.3,373.7 L597.3,375.1 L598.2,377.2 L599.2,379.3 L601.5,380.5 L602.3,382.7 L603.4,384.8 L605.1,386.2 L604.9,389.5 L608.6,389 L610.5,390.3 L612.6,390.9 L614.6,392.1 L616.8,392.4 L619,393 L620.9,391.8 L622.9,390.8 L625.2,390.5 L627,389 L629.5,387.6 L632.4,387.7 L635,386.7 L637.6,387.7 L640,389 L636.4,391.1 L637.8,395 L640.4,396.3 L642.7,397.9 L645.4,398.9 M645.4,398.9 L647.7,397.2 L650.8,397 L653,395 L653.6,392 L655,389.3 L657.3,388.6 L659.6,387.8 L662.1,388.5 L664.6,388.8 L666.8,387.3 L669.2,387.4 L670.2,385.3 L671.4,383.3 L672.6,381.3 L673,379 M513.4,382 L515.6,382.9 L517,385.1 L519.5,385.5 L519.9,387.7 L521.2,389.6 L521.4,391.9 L522.7,393.8 L523.3,396 L525,398.3 L526.2,400.8 L528.8,401.7 L531.4,401.3 L534,402.2 L536.7,401.7 L539,401.6 L541.3,401.9 L543.5,402.9 L545.8,402.6 L548.1,402.7 L550.5,403.8 L552.7,405.2 L555.1,406.1 L557.7,406.5 L559.4,409 L561.5,411.2 L559.6,413.2 L557.2,413.6 L554.7,413.4 L552.3,414 L550,415 L547.6,414.9 L545.3,415.8 L543.1,416.5 L541.1,418.1 L538.6,417.9 M538.6,417.9 L537.6,421.7 L537.4,424.3 L538.8,426.8 L538.6,429.4 L537.7,431.7 L535.7,433.2 L536.7,435.7 L539.2,436.8 L541.3,438.4 L542.4,440.8 L545.7,440.4 L546.2,443.7 L548,445.2 L550,446.5 L552.2,448.1 L553,450.7 L554.8,452.7 L556,455 M538.6,417.9 L541.1,418.5 L543.5,416.9 L546,417.7 L548.5,417.7 L550.9,416.9 L553.3,415.7 L555.8,416 L558.3,416.1 L560.4,417.8 L563.1,416.7 L565.3,417.9 L567.2,421.7 L568.6,423.5 L569.9,425.5 L571,427.5 L570.7,431.6 L575,431.7 L576.7,434.1 L578.4,436.2 L578.6,438.9 L581.8,439.8 L584.4,441.8 L586.6,442.4 L588.8,442.3 L591,442.7 L591.9,445.2 L592.1,447.7 L592,450.3 M556,455 L558.1,456 L560.5,456.1 L562.6,457.2 L565.1,457 L567.2,458 L569.7,458.4 L572.3,458.4 L574.8,458 L578.6,456 L581.1,456.2 L583.4,455.4 L586.2,456.9 L588,454 L590.2,452.3 L592,450.3 M522,473 L521.8,470.5 L521.5,467.9 L522.3,465.4 L524.6,464.7 L526.3,462.7 L529,462.9 L531.2,462.1 L533.4,461.2 L535,458.9 L537.5,458.6 L539.8,457.8 L542.3,458.5 L544.4,457.3 L546.7,456.6 L549.1,456.6 L551.3,455.4 L553.8,456 L556,455 M592,450.3 L594.2,451 L596.5,450 L598.7,450.7 L600.9,450.3 L603.3,448.8 L605.3,451.3 L607.7,450.4 L610.1,451.3 L612.4,450.8 L614.8,451.8 L617.2,451.3 L619.6,451 L622.4,450.2 L625.4,450.3 M625.4,450.3 L621.5,448.4 L621.1,446.1 L621.3,443.8 L620.4,441.6 L620.9,439.3 L620.6,437 L622.5,434.1 L624.9,433.5 L626.7,431.5 L629.2,431.3 L630.1,429.4 L632.6,427.2 L635.8,426.5 L638.1,425 L640.5,423.8 M645.4,398.9 L643.2,399.2 L641.1,399.9 L639,400.8 L636.7,400.7 L635,402.8 L632.4,401.9 L630.6,403.5 L628.3,403.4 L626.3,404.6 L630,404.5 L627.8,409.3 L631,409.5 L632.5,411.2 L633,413.8 L635,415 L635.7,417.6 L640,418 L638.5,422 L640.5,423.8 M640.5,423.8 L642.9,423.8 L644.9,425.3 L647.2,425.7 L649.6,426.2 L652,426.4 L654.8,424.8 L656.7,427.6 L658.5,429.2 L660.2,430.9 L663,431.3 L664.4,433.4 L664.1,436 L664,438.7 L662.5,441 L663.8,443.5 L662.9,446.3 L664.6,448.8 L664.4,451.5 L665.1,453.8 L665.5,456.2 L665,458.6 L665.3,461 M625.4,450.3 L624.3,451.5 L622.3,452.8 L619.7,452.2 L617.6,453.4 L618.8,456.1 L618.6,459.1 L621,459.1 L623.5,459.1 L625.6,460.9 L628.3,459.5 L630.6,460 L632.9,461 L635.2,461.9 L637.6,462.3 L639.8,463.2 L641.9,464.5 L644.3,464.9 L646.6,465.7 L649.1,465.8 L649.9,463.4 L652,462 L654.3,462.5 L656.5,462.3 L658.7,462.3 L660.9,461.7 L663.1,460.8 L665.3,461 M665.3,461 L667.7,462.7 L669.8,464.7 L672,466.7 L669.9,468.4 L667.9,470.2 L666.3,472.5 L663.6,472.6 L661.6,474.8 L660,477.6 L656.7,476.3 L654.6,477 L652.5,478 L650.3,478 L648.2,478.6 L646,479.1 L643.7,478.8 L641.5,479.1 L641.3,481.8 L639.6,483.9 L641.9,484.2 L644.3,483.9 L646.5,484.6 L648.6,486.2 L651,485.8 L653.4,485.9 L655.6,485.3 L658,485.1 L660.3,484.7 L662.5,483.9 M662.5,483.9 L664.7,483 L666.9,483.8 L669.1,482.8 L671.3,482.8 L673.6,482.8 L675.8,482.9 L677.8,481.5 L680.2,481.8 L682.4,481.2 L684.4,479.6 L686.5,478.8 L688.7,478.1 L691.1,478.2 L693.2,477.5 L695.1,476 L697.6,476.4 L699.6,475.3 M725,404 L727.3,405.7 L729.2,406.8 L730.7,408.6 L732.6,409.7 L735,410 L737.1,410.8 L738.7,412.4 L738.2,414.7 L739.2,417 L739.8,419.2 L739,421.6 L739.7,423.8 L739.6,426.4 L738.8,428.8 L737.4,431.1 L738.1,433.9 L736.8,436.2 L735.3,438.5 L732.7,440.1 L732.4,443 L732,445.8 L730.8,448.2 L730.6,451 L729.2,453.4 L731.7,454.7 L733,457.2 L733,459.9 L732,462.3 L731.1,464.8 L729.6,467 L727.6,468.5 L725.4,469.8 L723.5,471.5 L723.6,473.8 L723.2,476 L722.5,478.2 L719.8,477.1 L716.7,477.5 L714,476.3 L711.6,476.3 L709.2,475.7 L707,473 L704.6,473.3 L702,476.2 L699.6,475.3 M699.6,475.3 L699.4,477.9 L699.2,480.6 L698.2,483.1 L698.7,485.8 L698.7,488.4 L697.7,490.7 L697,493.1 L695.8,495.3 L696.8,497.6 L696.3,500.1 L696.4,502.5 L696.8,504.9 L696.8,507.5 L699,509.4 L699.7,511.8 L699.6,514.4 L699.6,518 L702,517.9 L704.3,517.1 L706.7,517.6 L709.2,518 L711.5,518 L713.9,517.3 L716.2,516.2 L718.8,517.1 L721.1,516.6 L723.4,515.4 L725.9,515.7 L728.3,515.8 L730.2,512.1 L733,514.4 L734.2,516.4 L736,517.8 L736.7,520.2 L739.4,521.1 L739.9,523.6 L739.3,527 L743,527 L745.3,528.5 L747.1,530.4 L748.7,532.6 L750,535 L752,536.6 L754,538 L755.5,540.3 L758.7,539.6 L760.5,541.5 L763,542 L763,544.5 L765.1,546.2 L766,548.3 L766.4,550.6 L766.4,553.1 L768,555 L768.2,557.4 L765.3,559.8 L768.5,562.2 L768.6,564.6 L768,567 M662.5,483.9 L660.9,485.9 L659.5,488.2 L658.5,490.6 L656.7,492.5 L655,494.1 L652.5,494.4 L651.4,496.8 L648.8,497.2 L647.3,498.9 L645.3,500.1 L645.2,497.7 L643.6,495.8 L643.4,493.4 L641.2,492.7 L639.8,490.7 L637.9,489.7 L635.7,488.9 L633.9,487.7 L631.4,485.5 L628.1,484.9 L625.4,486.3 L622.6,486.7 L619.6,486.8 L619.1,489.1 L617.7,490.8 L615.9,492.3 L615.2,494.4 L614,496.3 L612.9,498.2 L611.3,496.6 L610.1,494.6 L608.7,492.8 L607,491.3 L606.4,488.9 L604.3,487.7 L601.9,488.2 L599.6,488.8 L596.9,486.6 L594.8,489.3 L592.4,489.4 L590,489.6 M590,489.6 L589.8,491.8 L589.8,494.1 L591.1,496.1 L590.2,498.4 L590.5,500.6 L591.8,502.7 L591.9,504.9 L590.7,507.3 L590.1,509.8 L589.7,512.5 L589,515 L586.9,516.5 L585.6,518.6 L584.8,521 L583.2,522.9 L582,525 L581.6,527.2 L581.3,529.4 L580.8,531.6 L580.3,533.7 L579.2,535.8 L579,538 L578.5,540.3 L579.7,542.7 L579.4,545 L579.5,547.3 L578.8,549.7 L579,552 L579.1,554.5 L578.4,557 L579.3,559.6 L578,562 L579,564.6 L578,567 M590,489.6 L588.8,487.6 L585,487.3 L585.4,484.2 L584.2,482.2 L583.9,479.5 L582,478 L578.9,480.4 L577,477 L575.4,479 L575.6,481.8 L574.8,484.1 L573.7,486.3 L573.6,488.9 L572,491 L569.9,492.1 L567.6,491.8 L565.5,492.9 L563.1,492.6 L561,493.5 L558.6,493.2 L556.8,495.3 L554.3,494.7 L552.1,495.1 L550,496 L547.7,496.1 L545.8,497.9 L543.5,498.3 L541.1,497.9 L539,499 L536.8,498.4 L535.1,496.7 L532.7,496.6 L531,495 L530.5,492.6 L530,490.1 L528.8,487.9 L528.7,485.4 L528,483 L526.1,481.4 L525.2,479.3 L524.6,476.9 L523.4,474.9 L522,473 M331,482 L333.9,481.6 L336.7,482.5 L339.5,482.3 L340.4,480 L342.8,478.6 L344.1,476.6 L345.6,474.7 L346.3,472.2 L348,470.5 L348.7,468 L349.1,465.3 L352.7,464.8 L353.4,462.3 L354.8,460.3 L356.7,458.8 L359.1,458.5 L361.4,457.9 L363.6,457.1 L365.2,455 L367.7,454.7 L370,454.1 L371.9,452.6 L374.3,452.4 L376.2,450.9 L378.5,450.2 L381,450.4 L383.3,449.4 L385.7,448.6 L387.8,446.4 L390,445 L393,447.5 L395.4,446.8 L397.7,446 L400,445.4 L401.3,442 L404.5,443.7 L406.9,443.1 L408.9,441.7 L411.2,441.9 L413.5,442.2 L415.6,443.2 L417.8,443.9 L420.2,443.7 L422.3,444.7 L424.7,444.7 L427.1,444.2 L429.2,445.1 L430.5,447.2 L432.8,448.3 L433.9,450.5 L436,451.8 L438.6,451.4 L440.8,450.2 L444,450.9 L445.2,447.6 L447.4,446.4 L449.5,445.1 L451.9,445.5 L454.3,445.4 L456.6,442.6 L459,444.2 L461.4,445.3 L463.8,445.9 L466.1,445.7 L468.5,444.7 L470.9,444.9 L473.2,445.1 L474.9,446.8 L473.7,448.6 L472.5,450.5 L470.8,452 L468.7,453.1 L468.2,455.5 L466.5,456.9 L467.8,459 L469.6,460.6 L471.5,462 L473.8,462.4 L476.1,461.9 L478.4,462 L480.6,461.3 L482.9,461.6 L485.1,461.5 L487.4,461.4 L489.7,461.3 L491.8,460.3 L491.5,462.7 L492.7,465 L491.8,467.4 L492.1,469.8 L491.8,472.2 L494.2,472.7 L496.5,471.8 L498.8,471.9 L501.2,470.3 L503.5,471.7 L505.8,473 L508.1,472.5 L510.4,473.2 L512.7,472.4 L515,473.5 L517.3,473.6 L519.7,472.6 L522,473" fill="none" stroke="#f00" stroke-width="3.8" stroke-linejoin="round" stroke-linecap="round"/><path d="M638.5,478L646,476L655,473.5L660,476L657,485L648,486.5L640,487.5L637.5,484Z M663,462.5L675.5,466.5L672,471L664,470Z M494,191L499,191.5L496.5,196.5Z" fill="#f00"/></g>
<clipPath id="clipb"><rect x="1222" y="7" width="823" height="642"/></clipPath>
<g id="snow" stroke="#0000f0" stroke-width="3" fill="none"><path d="M0,-12.7V12.7M-13.4,-8.4L13.4,8.4M-13.4,8.4L13.4,-8.4"/></g>
<g id="sleet" stroke="#0000f0" stroke-width="2.8" fill="none"><circle r="13"/><path d="M-8.5,-8.5L8.5,8.5M-8.5,8.5L8.5,-8.5"/></g>
<circle id="rain" r="14.3" fill="#0000f0"/>
</defs>
<rect x="255.5" y="6.5" width="825" height="644" fill="none" stroke="#000" stroke-width="3"/>
<path d="M242,43.9H254M311.3,652V664M242,166.4H254M498.9,652V664M242,288.9H254M686.5,652V664M242,411.4H254M874.1,652V664M242,533.9H254M1061.7,652V664" stroke="#000" stroke-width="3" fill="none"/>
<rect x="1221.5" y="6.5" width="825" height="644" fill="none" stroke="#000" stroke-width="3"/>
<path d="M1208,43.9H1220M1278.3,652V664M1208,166.4H1220M1465.9,652V664M1208,288.9H1220M1653.5,652V664M1208,411.4H1220M1841.1,652V664M1208,533.9H1220M2028.7,652V664" stroke="#000" stroke-width="3" fill="none"/>
<rect x="255.5" y="787.5" width="825" height="644" fill="none" stroke="#000" stroke-width="3"/>
<path d="M242,824.9H254M311.3,1433V1445M242,947.4H254M498.9,1433V1445M242,1069.9H254M686.5,1433V1445M242,1192.4H254M874.1,1433V1445M242,1314.9H254M1061.7,1433V1445" stroke="#000" stroke-width="3" fill="none"/>
<rect x="1221.5" y="787.5" width="825" height="644" fill="none" stroke="#000" stroke-width="3"/>
<path d="M1208,824.9H1220M1278.3,1433V1445M1208,947.4H1220M1465.9,1433V1445M1208,1069.9H1220M1653.5,1433V1445M1208,1192.4H1220M1841.1,1433V1445M1208,1314.9H1220M2028.7,1433V1445" stroke="#000" stroke-width="3" fill="none"/>
<rect x="2194.5" y="787.5" width="825" height="644" fill="none" stroke="#000" stroke-width="3"/>
<path d="M2181,824.9H2193M2250.3,1433V1445M2181,947.4H2193M2437.9,1433V1445M2181,1069.9H2193M2625.5,1433V1445M2181,1192.4H2193M2813.1,1433V1445M2181,1314.9H2193M3000.7,1433V1445" stroke="#000" stroke-width="3" fill="none"/>
<g clip-path="url(#clipb)">
<rect x="1222" y="7" width="824" height="643" fill="#cccccc"/>
<path d="M1829,7 C1828.3,10.2 1827.2,18 1825,26 C1822.8,34 1819.8,47.3 1816,55 C1812.2,62.7 1807.5,67 1802.3,72.2 C1797.1,77.4 1790.6,81 1784.8,86.2 C1779,91.5 1772.4,97.9 1767.4,103.7 C1762.5,109.5 1757.4,116 1755.1,121.2 C1752.8,126.4 1752.2,129.9 1753.4,135.1 C1754.6,140.3 1758.6,147.6 1762.1,152.6 C1765.6,157.6 1770,162 1774.4,164.8 C1778.8,167.6 1783.7,169.5 1788.3,169.2 C1792.9,168.9 1798.2,166.1 1802.3,163.1 C1806.4,160.1 1810.2,155 1812.8,150.9 C1815.4,146.8 1816.8,142.1 1818,138.6 C1819.2,135.1 1818.6,132.8 1819.8,129.9 C1821,127 1822.1,123.8 1825,121.2 C1827.9,118.6 1835,116.8 1837.3,114.2 C1839.6,111.6 1838.1,108 1839,105.4 C1839.9,102.8 1840.2,99.3 1842.5,98.4 C1844.8,97.5 1850.7,98.7 1853,100.2 C1855.3,101.7 1856.8,104.6 1856.5,107.2 C1856.2,109.8 1850.6,112.1 1851.2,115.9 C1851.8,119.7 1858.5,124.7 1860,129.9 C1861.5,135.2 1860.3,141.6 1860,147.4 C1859.7,153.2 1859.4,159 1858.2,164.8 C1857,170.6 1855.3,178.2 1853,182.3 C1850.7,186.4 1848.4,186.7 1844.3,189.3 C1840.2,191.9 1835.5,194.2 1828.5,198 C1821.5,201.8 1809,208.8 1802.3,212 C1795.6,215.2 1792.7,217.3 1788.3,217.3 C1783.9,217.3 1779.6,215.2 1776.1,212 C1772.6,208.8 1770.6,201.5 1767.4,198 C1764.2,194.5 1761.3,192.2 1756.9,191 C1752.5,189.8 1745.3,190.1 1741.2,191 C1737.1,191.9 1733.3,194.2 1732.4,196.3 C1731.5,198.4 1733,200.4 1735.9,203.3 C1738.8,206.2 1746.1,209.4 1749.9,213.8 C1753.7,218.2 1757.4,225.8 1758.6,229.5 C1759.8,233.2 1759.1,232.7 1757,236 C1754.9,239.3 1750.4,246.4 1746,249.6 C1741.6,252.8 1736.4,254.4 1730.7,255 C1725,255.6 1718,253.9 1711.6,253 C1705.2,252.1 1698.8,251.8 1692.5,249.6 C1686.2,247.4 1679.8,242.3 1673.5,240 C1667.2,237.7 1664,234.4 1654.4,236 C1644.8,237.6 1627.1,245.1 1616,249.6 C1604.9,254.1 1596.5,257 1587.7,263 C1578.9,269 1571,280.7 1563,285.8 C1555,290.9 1546.9,289.9 1540,293.4 C1533.1,296.9 1528.1,300.6 1521.5,306.7 C1514.9,312.8 1505.3,325.6 1500.5,330 C1495.7,334.4 1497.5,329.4 1492.7,333 C1487.9,336.6 1479.2,345.4 1471.7,351.5 C1464.2,357.6 1455,363.7 1448,369.8 C1441,375.9 1434,382.3 1429.7,388 C1425.4,393.7 1422.4,397.9 1421.9,404 C1421.5,410.1 1425.7,419.2 1427,424.9 C1428.3,430.6 1431,434.1 1429.7,438 C1428.4,441.9 1423.4,445 1419,448.5 C1414.6,452 1409.2,454.6 1403.5,459 C1397.8,463.4 1391.1,469 1385,474.7 C1378.9,480.4 1372.5,488.2 1366.8,493 C1361.1,497.8 1354,500 1351,503.5 C1348,507 1347.7,509.6 1348.5,514 C1349.3,518.4 1355.1,524.9 1356,529.7 C1356.9,534.5 1355.9,537.6 1353.7,542.8 C1351.5,548 1347,555.3 1343,561 C1339,566.7 1333.9,573 1330,577 C1326.1,581 1323.1,582.8 1319.6,584.8 C1316.1,586.8 1314.7,588.3 1309,588.7 C1303.3,589.1 1294.7,588.3 1285.5,587.4 C1276.3,586.5 1264.6,584.6 1254,583.5 C1243.4,582.4 1227.3,581.3 1222,580.9 L1222,650 L2046,650 L2046,7 L1829,7Z" fill="#999999"/>
<path d="M1429.7,167.8 C1432.1,164.4 1438.4,159.5 1442.8,157.3 C1447.2,155.1 1451.2,153.4 1456,154.7 C1460.8,156 1463,162.8 1471.7,165 C1480.4,167.2 1497.5,167.3 1508,167.8 C1518.5,168.3 1528.8,169.6 1534.6,167.8 C1540.3,166.1 1541.2,162.1 1542.5,157.3 C1543.8,152.5 1541.2,144.2 1542.5,139 C1543.8,133.8 1545,127.1 1550.3,125.8 C1555.5,124.5 1559,126.6 1574,131 C1589,135.4 1626.3,147.7 1640,152 C1653.7,156.3 1649,153.5 1656,157 C1663,160.5 1673.7,167.8 1682,173 C1690.3,178.2 1706,184.5 1706,188 C1706,191.5 1693,193.9 1682,194 C1671,194.1 1655.8,188.8 1640,188.8 C1624.2,188.8 1599.3,192.3 1587,194 C1574.7,195.7 1571.7,194.2 1566,199 C1560.3,203.8 1556.5,216.8 1553,223 C1549.5,229.2 1549.4,233.4 1545,236 C1540.6,238.6 1535,239.9 1526.7,238.6 C1518.4,237.3 1506.8,233.3 1495,228 C1483.2,222.7 1465.6,213.2 1456,207 C1446.4,200.8 1442.2,195.8 1437.6,191 C1433,186.2 1429.7,181.9 1428.4,178 C1427.1,174.1 1427.3,171.2 1429.7,167.8Z" fill="#999999"/>
<path d="M1990.5,7 C1992.1,8.2 1997.4,11.5 2000,14.3 C2002.6,17.1 2004.4,20.2 2006,23.8 C2007.6,27.4 2008,31.7 2009.6,35.7 C2011.2,39.7 2013.9,43.3 2015.5,47.7 C2017.1,52.1 2018.2,57 2019,62 C2019.8,67 2020.5,72.2 2020.3,77.4 C2020.1,82.6 2019.2,88.6 2018,93 C2016.8,97.4 2015,100.9 2013,103.7 C2011,106.5 2008.5,108.4 2006,109.6 C2003.5,110.8 2003.1,110.6 1997.7,110.8 C1992.3,111 1980.5,110.5 1973.8,110.8 C1967.1,111.1 1963.5,110.7 1957.7,112.7 C1951.9,114.7 1944.3,118.2 1939,123 C1933.7,127.8 1929.5,134.1 1926,141.6 C1922.5,149.1 1921,159.5 1918,167.8 C1915,176.1 1911,186.4 1908,191.4 C1905,196.4 1906,197.2 1900,198 C1894,198.8 1879.8,196.3 1872.2,196.3 C1864.7,196.3 1862,196.6 1854.7,198 C1847.4,199.4 1835.5,201.8 1828.5,205 C1821.5,208.2 1816.3,212.4 1812.8,217.3 C1809.3,222.2 1807.3,228.9 1807.6,234.7 C1807.9,240.5 1812.5,246.4 1814.5,252.2 C1816.5,258 1819.5,264.6 1819.8,269.7 C1820,274.8 1818,277.7 1816,283 C1814,288.3 1811.1,296.3 1808,301.5 C1804.9,306.7 1800.4,309.4 1797.4,314.4 C1794.4,319.4 1792,327.2 1789.8,331.6 C1787.6,336 1787.5,338.1 1784,341 C1780.5,343.9 1777.9,348 1769,348.7 C1760.1,349.4 1741.9,346.1 1730.7,345 C1719.5,343.9 1709,342 1702,342 C1695,342 1692.9,342.9 1688.7,345 C1684.5,347.1 1680.8,353.6 1677,354.5 C1673.2,355.4 1669.8,353.2 1666,350.6 C1662.2,348 1658.9,342.2 1654.4,339 C1649.9,335.8 1644.1,334.4 1639,331.6 C1633.9,328.8 1628.1,324.6 1624,322 C1619.9,319.4 1618.9,315 1614.4,316 C1609.9,317 1603.1,323 1597,327.8 C1590.9,332.6 1584.3,339.3 1578,345 C1571.7,350.7 1565.3,356.7 1559,362 C1552.7,367.3 1546.2,372.2 1540,377 C1533.8,381.8 1528.5,385.5 1521.5,390.8 C1514.5,396.1 1505.4,402.5 1498,409 C1490.6,415.5 1482.7,423.4 1477,430 C1471.3,436.6 1467.3,442.4 1463.8,448.5 C1460.3,454.6 1459,460.2 1456,466.8 C1453,473.4 1450.8,482.1 1445.5,487.8 C1440.2,493.5 1430.6,495.8 1424.5,501 C1418.4,506.2 1412.3,512.9 1408.8,519 C1405.3,525.1 1403.1,531.9 1403.5,537.6 C1403.9,543.3 1410.1,547.3 1411.4,553 C1412.7,558.7 1412.7,566.4 1411.4,571.7 C1410.1,577 1407.4,580 1403.5,584.8 C1399.6,589.6 1393.9,594.4 1387.8,600.5 C1381.7,606.6 1372,615.4 1366.8,621.5 C1361.5,627.6 1358.9,632.2 1356.3,637 C1353.7,641.8 1351.9,647.8 1351,650 L2046,650 L2046,7 L1990.5,7Z" fill="#666666"/>
<path d="M2046,236 C2042.2,236 2033.3,233.4 2023,236 C2012.7,238.6 1995.8,246.9 1984,251.7 C1972.2,256.5 1963.5,261.3 1952.5,264.8 C1941.5,268.3 1928.1,270.5 1918,272.7 C1907.9,274.9 1900.7,274.5 1892,278 C1883.3,281.5 1872.5,288.4 1866,293.6 C1859.5,298.8 1857.4,302.9 1853,309 C1848.6,315.1 1845.4,323.9 1839.7,330.5 C1834,337.1 1831.1,342.7 1818.8,348.8 C1806.5,354.9 1780.9,361.3 1766,367 C1751.1,372.7 1742.6,377.7 1729.6,383 C1716.5,388.3 1700,394.4 1687.7,398.7 C1675.4,403 1665.6,404.6 1656,409 C1646.4,413.4 1638,418 1630,425 C1622,432 1613.4,444 1608,451 C1602.6,458 1601.9,462 1597.5,466.8 C1593.1,471.6 1587.9,475.6 1581.8,480 C1575.7,484.4 1566.9,488.2 1560.8,493 C1554.7,497.8 1550.2,504 1545,508.8 C1539.8,513.6 1534.6,515.8 1529.4,521.9 C1524.2,528 1518,537.6 1513.6,545.5 C1509.2,553.4 1505.2,560.8 1503,569 C1500.8,577.2 1500.5,586.2 1500.5,595 C1500.5,603.8 1501.7,612.3 1503,621.5 C1504.3,630.7 1507.5,645.2 1508.4,650 L2046,650 L2046,236Z" fill="#333333"/>
<path d="M2046,316 C2043.5,316.7 2039.2,315.4 2031,320 C2022.8,324.6 2007,337.5 1997,343.6 C1987,349.7 1978.7,354.5 1970.8,356.7 C1962.9,358.9 1956.3,355.8 1949.8,356.7 C1943.2,357.6 1937.2,358.5 1931.5,362 C1925.8,365.5 1918,372.9 1915.8,377.7 C1913.6,382.5 1913.6,387.8 1918.4,390.8 C1923.2,393.9 1938.5,393.8 1944.6,396 C1950.7,398.2 1951.5,398.3 1955,404 C1958.5,409.7 1965.1,422.2 1965.6,430 C1966,437.8 1963.4,444.4 1957.7,451 C1952,457.6 1942.5,462.8 1931.5,469.4 C1920.5,476 1904.2,485.1 1892,490.4 C1879.8,495.7 1866.7,496.2 1858,501 C1849.3,505.8 1846.2,512 1839.7,519 C1833.2,526 1821,535.8 1818.8,542.8 C1816.6,549.8 1823.1,556.6 1826.6,561 C1830.1,565.4 1837.5,565.5 1839.7,569 C1841.9,572.5 1843.2,575.4 1839.7,582 C1836.2,588.6 1825.3,599.6 1818.8,608.4 C1812.2,617.2 1804.8,627.7 1800.4,634.6 C1796,641.5 1793.8,647.4 1792.5,650 L2046,650 L2046,316Z" fill="#666666"/>
<path d="M2046,598 C2033.5,597.1 1985.1,592.7 1970.8,592.7 C1956.5,592.7 1962.6,593.6 1960,598 C1957.4,602.4 1957.6,614.7 1955,619 C1952.4,623.3 1950.7,621.8 1944.6,624 C1938.5,626.2 1929.3,627.7 1918.4,632 C1907.5,636.3 1885.6,647 1879,650 L2046,650 L2046,598Z" fill="#333333"/>
<path d="M1738,306.8 C1740,303 1744.7,297.2 1749.8,295 C1754.9,292.8 1763.4,292.7 1768.8,293.4 C1774.2,294.1 1779.5,296.1 1782,299 C1784.5,301.9 1784.7,306.1 1784,310.6 C1783.3,315.1 1781.2,321.7 1778,325.8 C1774.8,329.9 1769.7,334.4 1765,335.4 C1760.3,336.4 1754.3,334.5 1749.8,331.6 C1745.3,328.7 1740,322.1 1738,318 C1736,313.9 1736,310.6 1738,306.8Z" fill="#cccccc"/>
</g>
<use href="#map" x="0" y="0"/>
<use href="#map" x="966" y="0"/>
<use href="#map" x="0" y="781"/>
<use href="#map" x="966" y="781"/>
<use href="#map" x="1939" y="781"/>
<text x="36" y="53.9" font-family="Liberation Serif, serif" font-size="55">41°00′N</text>
<text x="36" y="176.4" font-family="Liberation Serif, serif" font-size="55">40°40′</text>
<text x="36" y="298.9" font-family="Liberation Serif, serif" font-size="55">40°20′</text>
<text x="36" y="421.4" font-family="Liberation Serif, serif" font-size="55">40°00′</text>
<text x="36" y="543.9" font-family="Liberation Serif, serif" font-size="55">39°40′</text>
<text x="36" y="832.9" font-family="Liberation Serif, serif" font-size="55">41°00′N</text>
<text x="36" y="955.4" font-family="Liberation Serif, serif" font-size="55">40°40′</text>
<text x="36" y="1077.9" font-family="Liberation Serif, serif" font-size="55">40°20′</text>
<text x="36" y="1200.4" font-family="Liberation Serif, serif" font-size="55">40°00′</text>
<text x="36" y="1322.9" font-family="Liberation Serif, serif" font-size="55">39°40′</text>
<text x="312.8" y="729" font-family="Liberation Serif, serif" font-size="55" text-anchor="middle">115°30′</text>
<text x="688" y="729" font-family="Liberation Serif, serif" font-size="55" text-anchor="middle">116°30′</text>
<text x="1063.2" y="729" font-family="Liberation Serif, serif" font-size="55" text-anchor="middle">117°30′E</text>
<text x="1278.8" y="729" font-family="Liberation Serif, serif" font-size="55" text-anchor="middle">115°30′</text>
<text x="1654" y="729" font-family="Liberation Serif, serif" font-size="55" text-anchor="middle">116°30′</text>
<text x="2029.2" y="729" font-family="Liberation Serif, serif" font-size="55" text-anchor="middle">117°30′E</text>
<text x="312.8" y="1518.5" font-family="Liberation Serif, serif" font-size="55" text-anchor="middle">115°30′</text>
<text x="688" y="1518.5" font-family="Liberation Serif, serif" font-size="55" text-anchor="middle">116°30′</text>
<text x="1063.2" y="1518.5" font-family="Liberation Serif, serif" font-size="55" text-anchor="middle">117°30′E</text>
<text x="1278.8" y="1518.5" font-family="Liberation Serif, serif" font-size="55" text-anchor="middle">115°30′</text>
<text x="1654" y="1518.5" font-family="Liberation Serif, serif" font-size="55" text-anchor="middle">116°30′</text>
<text x="2029.2" y="1518.5" font-family="Liberation Serif, serif" font-size="55" text-anchor="middle">117°30′E</text>
<text x="2256.3" y="1518.5" font-family="Liberation Serif, serif" font-size="55" text-anchor="middle">115°30′</text>
<text x="2632" y="1518.5" font-family="Liberation Serif, serif" font-size="55" text-anchor="middle">116°30′</text>
<text x="3012.2" y="1518.5" font-family="Liberation Serif, serif" font-size="55" text-anchor="middle">117°30′E</text>
<text x="304" y="61" font-family="Liberation Serif, serif" font-size="47.5">(a)</text>
<text x="1260" y="61" font-family="Liberation Serif, serif" font-size="47.5">(b)</text>
<text x="304.5" y="839" font-family="Liberation Serif, serif" font-size="47.5">(c)</text>
<text x="1260.5" y="839" font-family="Liberation Serif, serif" font-size="47.5">(d)</text>
<text x="2244" y="845" font-family="Liberation Serif, serif" font-size="47.5">(e)</text>
<rect x="2072.5" y="24.5" width="26" height="125" fill="#333333" stroke="#000" stroke-width="3"/>
<rect x="2072.5" y="149.5" width="26" height="124" fill="#666666" stroke="#000" stroke-width="3"/>
<rect x="2072.5" y="273.5" width="26" height="124" fill="#999999" stroke="#000" stroke-width="3"/>
<rect x="2072.5" y="397.5" width="26" height="124" fill="#cccccc" stroke="#000" stroke-width="3"/>
<rect x="2072.5" y="521.5" width="26" height="124" fill="#ffffff" stroke="#000" stroke-width="3"/>
<text x="2118" y="98" font-family="Liberation Serif, serif" font-size="55">mm</text>
<text x="2119.5" y="161" font-family="Liberation Serif, serif" font-size="55" letter-spacing="-1">10.0</text>
<text x="2123" y="285.7" font-family="Liberation Serif, serif" font-size="55">5.0</text>
<text x="2123" y="409.5" font-family="Liberation Serif, serif" font-size="55">2.5</text>
<text x="2123" y="533.5" font-family="Liberation Serif, serif" font-size="55">0.1</text>
<text x="736.1" y="148.7" font-family="Liberation Sans, sans-serif" font-weight="bold" font-size="22" fill="#0000e6" text-anchor="middle">15.9</text>
<text x="917" y="179.5" font-family="Liberation Sans, sans-serif" font-weight="bold" font-size="22" fill="#0000e6" text-anchor="middle">11.9</text>
<text x="548" y="198.6" font-family="Liberation Sans, sans-serif" font-weight="bold" font-size="22" fill="#0000e6" text-anchor="middle">30.8</text>
<text x="486.8" y="252.5" font-family="Liberation Sans, sans-serif" font-weight="bold" font-size="22" fill="#000" text-anchor="middle">12.6</text>
<text x="736.1" y="282.3" font-family="Liberation Sans, sans-serif" font-weight="bold" font-size="22" fill="#0000e6" text-anchor="middle">20.5</text>
<text x="823.5" y="277.2" font-family="Liberation Sans, sans-serif" font-weight="bold" font-size="22" fill="#0000e6" text-anchor="middle">16.8</text>
<text x="580.4" y="338.9" font-family="Liberation Sans, sans-serif" font-weight="bold" font-size="22" fill="#0000e6" text-anchor="middle">17.6</text>
<text x="729.9" y="368.7" font-family="Liberation Sans, sans-serif" font-weight="bold" font-size="22" fill="#0000e6" text-anchor="middle">21.3</text>
<text x="917" y="356.8" font-family="Liberation Sans, sans-serif" font-weight="bold" font-size="22" fill="#0000e6" text-anchor="middle">26.0</text>
<text x="379.9" y="430.3" font-family="Liberation Sans, sans-serif" font-weight="bold" font-size="22" fill="#000" text-anchor="middle">9.8</text>
<text x="606.1" y="423.7" font-family="Liberation Sans, sans-serif" font-weight="bold" font-size="22" fill="#0000e6" text-anchor="middle">26.1</text>
<text x="576.2" y="439.1" font-family="Liberation Sans, sans-serif" font-weight="bold" font-size="22" fill="#0000e6" text-anchor="middle">27.8</text>
<text x="686.7" y="436.5" font-family="Liberation Sans, sans-serif" font-weight="bold" font-size="22" fill="#0000e6" text-anchor="middle">24.5</text>
<text x="556.2" y="461.2" font-family="Liberation Sans, sans-serif" font-weight="bold" font-size="22" fill="#0000e6" text-anchor="middle">26.1</text>
<text x="593.2" y="467.3" font-family="Liberation Sans, sans-serif" font-weight="bold" font-size="22" fill="#0000e6" text-anchor="middle">28.2</text>
<text x="779.8" y="474" font-family="Liberation Sans, sans-serif" font-weight="bold" font-size="22" fill="#0000e6" text-anchor="middle">26.0</text>
<text x="674.4" y="493" font-family="Liberation Sans, sans-serif" font-weight="bold" font-size="22" fill="#0000e6" text-anchor="middle">29.6</text>
<text x="572.1" y="501.8" font-family="Liberation Sans, sans-serif" font-weight="bold" font-size="22" fill="#0000e6" text-anchor="middle">25.3</text>
<text x="401.5" y="518.7" font-family="Liberation Sans, sans-serif" font-weight="bold" font-size="22" fill="#000" text-anchor="middle">13.7</text>
<text x="631.8" y="521.3" font-family="Liberation Sans, sans-serif" font-weight="bold" font-size="22" fill="#0000e6" text-anchor="middle">34.2</text>
<text x="1514" y="202.1" font-family="Liberation Sans, sans-serif" font-weight="bold" font-size="30.5" fill="#0000e6" text-anchor="middle">18</text>
<text x="1883" y="183" font-family="Liberation Sans, sans-serif" font-weight="bold" font-size="30.5" fill="#0000e6" text-anchor="middle">8</text>
<text x="1702.1" y="285.8" font-family="Liberation Sans, sans-serif" font-weight="bold" font-size="30.5" fill="#0000e6" text-anchor="middle">0</text>
<text x="1789.5" y="280.7" font-family="Liberation Sans, sans-serif" font-weight="bold" font-size="30.5" fill="#0000e6" text-anchor="middle">4</text>
<text x="1546.4" y="342.4" font-family="Liberation Sans, sans-serif" font-weight="bold" font-size="30.5" fill="#0000e6" text-anchor="middle">0</text>
<text x="1695.9" y="372.2" font-family="Liberation Sans, sans-serif" font-weight="bold" font-size="30.5" fill="#0000e6" text-anchor="middle">4</text>
<text x="1883" y="360.3" font-family="Liberation Sans, sans-serif" font-weight="bold" font-size="30.5" fill="#0000e6" text-anchor="middle">6</text>
<text x="1367.5" y="522.2" font-family="Liberation Sans, sans-serif" font-weight="bold" font-size="30.5" fill="#0000e6" text-anchor="middle">0</text>
<text x="1572.1" y="427.2" font-family="Liberation Sans, sans-serif" font-weight="bold" font-size="30.5" fill="#0000e6" text-anchor="middle">0</text>
<text x="1542.2" y="442.6" font-family="Liberation Sans, sans-serif" font-weight="bold" font-size="30.5" fill="#0000e6" text-anchor="middle">0</text>
<text x="1652.7" y="440" font-family="Liberation Sans, sans-serif" font-weight="bold" font-size="30.5" fill="#0000e6" text-anchor="middle">4</text>
<text x="1522.2" y="464.7" font-family="Liberation Sans, sans-serif" font-weight="bold" font-size="30.5" fill="#0000e6" text-anchor="middle">0</text>
<text x="1559.2" y="470.8" font-family="Liberation Sans, sans-serif" font-weight="bold" font-size="30.5" fill="#0000e6" text-anchor="middle">0</text>
<text x="1745.8" y="477.5" font-family="Liberation Sans, sans-serif" font-weight="bold" font-size="30.5" fill="#0000e6" text-anchor="middle">8</text>
<text x="1640.4" y="496.5" font-family="Liberation Sans, sans-serif" font-weight="bold" font-size="30.5" fill="#0000e6" text-anchor="middle">7</text>
<text x="1538.1" y="505.3" font-family="Liberation Sans, sans-serif" font-weight="bold" font-size="30.5" fill="#0000e6" text-anchor="middle">2</text>
<text x="1597.8" y="524.8" font-family="Liberation Sans, sans-serif" font-weight="bold" font-size="30.5" fill="#0000e6" text-anchor="middle">7</text>
<use href="#snow" x="548" y="972.1"/>
<use href="#sleet" x="917" y="953"/>
<use href="#rain" x="736.1" y="922.2"/>
<use href="#rain" x="486.8" y="1026"/>
<use href="#rain" x="736.1" y="1055.8"/>
<use href="#rain" x="823.5" y="1050.7"/>
<use href="#rain" x="580.4" y="1112.4"/>
<use href="#rain" x="379.9" y="1203.8"/>
<use href="#rain" x="576.2" y="1212.6"/>
<use href="#rain" x="686.7" y="1210"/>
<use href="#rain" x="556.2" y="1234.7"/>
<use href="#rain" x="593.2" y="1240.8"/>
<use href="#rain" x="674.4" y="1266.5"/>
<use href="#rain" x="572.1" y="1275.3"/>
<use href="#rain" x="401.5" y="1292.2"/>
<use href="#rain" x="631.8" y="1294.8"/>
<use href="#snow" x="900.4" y="1291"/>
<text x="926.4" y="1303.3" font-family="Liberation Serif, serif" font-size="48">Snow</text>
<use href="#sleet" x="900.4" y="1339.6"/>
<text x="926.4" y="1351.9" font-family="Liberation Serif, serif" font-size="48">Sleet</text>
<use href="#rain" x="900.4" y="1388.2"/>
<text x="926.4" y="1400.5" font-family="Liberation Serif, serif" font-size="48">Rain</text>
<use href="#snow" x="1702.1" y="922.2"/>
<use href="#snow" x="1514" y="972.1"/>
<use href="#snow" x="1883" y="953"/>
<use href="#snow" x="1452.8" y="1026"/>
<use href="#snow" x="1702.1" y="1055.8"/>
<use href="#snow" x="1789.5" y="1050.7"/>
<use href="#snow" x="1695.9" y="1142.2"/>
<use href="#snow" x="1883" y="1130.3"/>
<use href="#snow" x="1745.8" y="1247.5"/>
<use href="#snow" x="1640.4" y="1266.5"/>
<use href="#snow" x="1597.8" y="1294.8"/>
<use href="#snow" x="1367.5" y="1292.2"/>
<use href="#sleet" x="1652.7" y="1210"/>
<use href="#sleet" x="1522.2" y="1234.7"/>
<use href="#sleet" x="1559.2" y="1240.8"/>
<use href="#sleet" x="1538.1" y="1275.3"/>
<use href="#rain" x="1546.4" y="1112.4"/>
<use href="#rain" x="1345.9" y="1203.8"/>
<use href="#rain" x="1572.1" y="1197.2"/>
<use href="#rain" x="1542.2" y="1212.6"/>
<use href="#snow" x="1870.4" y="1291"/>
<text x="1896.4" y="1303.3" font-family="Liberation Serif, serif" font-size="48">Snow</text>
<use href="#sleet" x="1870.4" y="1339.6"/>
<text x="1896.4" y="1351.9" font-family="Liberation Serif, serif" font-size="48">Sleet</text>
<use href="#rain" x="1870.4" y="1388.2"/>
<text x="1896.4" y="1400.5" font-family="Liberation Serif, serif" font-size="48">Rain</text>
<use href="#snow" x="2675.1" y="922.2"/>
<use href="#snow" x="2487" y="972.1"/>
<use href="#snow" x="2856" y="953"/>
<use href="#snow" x="2425.8" y="1026"/>
<use href="#snow" x="2675.1" y="1055.8"/>
<use href="#snow" x="2762.5" y="1050.7"/>
<use href="#snow" x="2668.9" y="1142.2"/>
<use href="#snow" x="2856" y="1130.3"/>
<use href="#snow" x="2545.1" y="1197.2"/>
<use href="#snow" x="2515.2" y="1212.6"/>
<use href="#snow" x="2625.7" y="1210"/>
<use href="#snow" x="2495.2" y="1234.7"/>
<use href="#snow" x="2532.2" y="1240.8"/>
<use href="#snow" x="2718.8" y="1247.5"/>
<use href="#snow" x="2613.4" y="1266.5"/>
<use href="#snow" x="2511.1" y="1275.3"/>
<use href="#snow" x="2570.8" y="1294.8"/>
<use href="#sleet" x="2318.9" y="1203.8"/>
<use href="#sleet" x="2340.5" y="1292.2"/>
<use href="#rain" x="2519.4" y="1112.4"/>
<use href="#snow" x="2843.4" y="1291"/>
<text x="2869.4" y="1303.3" font-family="Liberation Serif, serif" font-size="48">Snow</text>
<use href="#sleet" x="2843.4" y="1339.6"/>
<text x="2869.4" y="1351.9" font-family="Liberation Serif, serif" font-size="48">Sleet</text>
<use href="#rain" x="2843.4" y="1388.2"/>
<text x="2869.4" y="1400.5" font-family="Liberation Serif, serif" font-size="48">Rain</text>
</svg></body></html>
